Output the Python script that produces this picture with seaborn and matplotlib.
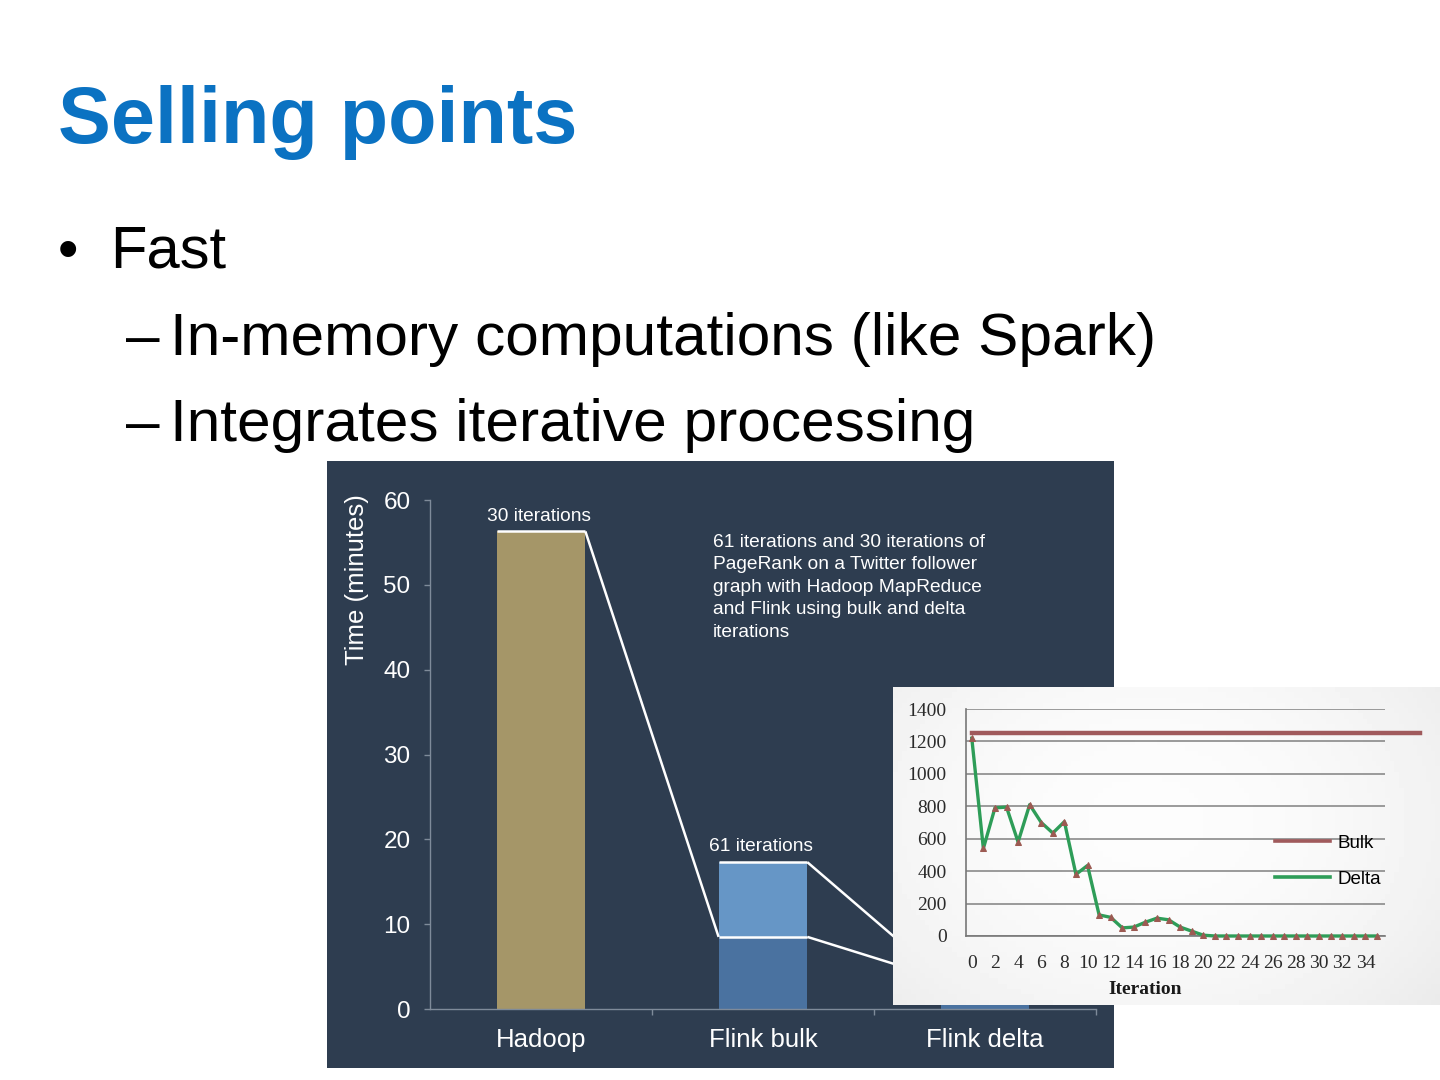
import matplotlib
matplotlib.use("Agg")
import matplotlib.pyplot as plt
import seaborn as sns
import numpy as np
import pandas as pd
from matplotlib.lines import Line2D

# ---------------- data ----------------
title_text = "Selling points"
bullet_main = "Fast"
sub_bullets = ["In-memory computations (like Spark)", "Integrates iterative processing"]

systems = ["Hadoop", "Flink bulk", "Flink delta"]
time_61_or_total = [56.3, 17.3, 3.8]   # top of each bar (minutes)
time_30 = [56.3, 8.5, 3.6]             # 30-iteration segment (minutes)
bar_labels = ["30 iterations", "61 iterations", ""]
y_ticks_main = [0, 10, 20, 30, 40, 50, 60]
note_text = ("61 iterations and 30 iterations of\nPageRank on a Twitter follower\n"
             "graph with Hadoop MapReduce\nand Flink using bulk and delta\niterations")

iterations = list(range(0, 36))
delta_values = [1220, 540, 790, 795, 580, 810, 700, 635, 705, 380, 435, 130, 115, 50, 55,
                85, 110, 100, 55, 30, 5, 0, 0, 0, 0, 0, 0, 0, 0, 0, 0, 0, 0, 0, 0, 0]
bulk_value = 1250
inset_yticks = [0, 200, 400, 600, 800, 1000, 1200, 1400]
inset_xticks = list(range(0, 35, 2))

# ---------------- helpers ----------------
W, H = 1440, 1080
def rect(l, t, r, b):
    return [l / W, 1 - b / H, (r - l) / W, (b - t) / H]
def fx(x): return x / W
def fy(y): return 1 - y / H

fig = plt.figure(figsize=(14.4, 10.8), dpi=100)
fig.patch.set_facecolor("white")

# ---------------- slide text ----------------
fig.text(fx(58), fy(143), title_text, fontsize=57, fontweight="bold",
         color="#0b72c2", family="Liberation Sans", va="baseline", ha="left")
fig.text(fx(58), fy(268), "\u2022", fontsize=42, color="black",
         family="Liberation Sans", va="baseline", ha="left")
fig.text(fx(110), fy(268), bullet_main, fontsize=43, color="black",
         family="Liberation Sans", va="baseline", ha="left")
for i, s in enumerate(sub_bullets):
    base = 355 + i * 86
    fig.text(fx(126), fy(base), "\u2013", fontsize=43.5, color="black",
             family="Liberation Sans", va="baseline", ha="left")
    fig.text(fx(170), fy(base), s, fontsize=43.5, color="black",
             family="Liberation Sans", va="baseline", ha="left")

# ---------------- dark panel ----------------
bg = fig.add_axes(rect(327, 461, 1114, 1068))
bg.set_facecolor("#2e3d50")
bg.set_xticks([]); bg.set_yticks([])
for s in bg.spines.values():
    s.set_visible(False)

# ---------------- bar chart ----------------
ax = fig.add_axes(rect(430, 500, 1096, 1009))
ax.set_facecolor("none")
df_top = pd.DataFrame({"system": systems, "time": time_61_or_total})
df_low = pd.DataFrame({"system": systems, "time": time_30})
sns.barplot(data=df_top, x="system", y="time", hue="system", order=systems,
            palette=["#a59668", "#6696c6", "#6696c6"], width=0.4, saturation=1,
            legend=False, ax=ax, edgecolor="none")
sns.barplot(data=df_low, x="system", y="time", hue="system", order=systems,
            palette=["#a59668", "#4a72a0", "#4a72a0"], width=0.4, saturation=1,
            legend=False, ax=ax, edgecolor="none")
ax.set_xlim(-0.5, 2.5)
ax.set_ylim(0, 60)
ax.set_yticks(y_ticks_main)
ax.set_yticklabels([str(v) for v in y_ticks_main])

hw = 0.2
wl = dict(color="white", lw=1.8, solid_capstyle="butt", zorder=5, clip_on=False)
ax.plot([0 - hw, 0 + hw], [time_61_or_total[0]] * 2, **wl)
ax.plot([1 - hw, 1 + hw], [time_61_or_total[1]] * 2, **wl)
ax.plot([1 - hw, 1 + hw], [time_30[1]] * 2, **wl)
ax.plot([0 + hw, 1 - hw], [time_30[0], time_30[1]], **wl)
ax.plot([1 + hw, 2 - hw], [time_61_or_total[1], time_61_or_total[2]], **wl)
ax.plot([1 + hw, 2 - hw], [time_30[1], time_30[2]], **wl)

for i, lab in enumerate(bar_labels):
    if lab:
        ax.text(i - 0.01, time_61_or_total[i] + 1.8, lab, ha="center", va="center",
                color="white", fontsize=13.8, family="Liberation Sans")

ax.text(0.775, 56.0, note_text, ha="left", va="top", color="white",
        fontsize=13.8, family="Liberation Sans", linespacing=1.42)

for side in ["top", "right"]:
    ax.spines[side].set_visible(False)
for side in ["left", "bottom"]:
    ax.spines[side].set_color("#7f8b9a")
    ax.spines[side].set_linewidth(1.0)
ax.tick_params(axis="y", colors="#7f8b9a", labelcolor="white", labelsize=17.5,
               length=4, width=1, pad=10, direction="out")
ax.tick_params(axis="x", which="major", length=0, labelcolor="white", labelsize=18.5, pad=14)
ax.set_xticks([0.5, 1.5, 2.5], minor=True)
ax.tick_params(axis="x", which="minor", length=4, width=1, colors="#7f8b9a", direction="out")
for t in ax.get_xticklabels() + ax.get_yticklabels():
    t.set_family("Liberation Sans")
ax.set_xlabel("")
ax.set_ylabel("Time (minutes)", color="white", fontsize=18.5, family="Liberation Sans")
ax.yaxis.set_label_coords(-0.091, 0.843)

# ---------------- inset chart ----------------
ibg = fig.add_axes(rect(893, 687, 1440, 1005))
yy, xx = np.mgrid[0:60, 0:120]
grad = 0.99 - 0.05 * (((xx - 55) / 70.0) ** 2 + ((yy - 25) / 45.0) ** 2)
ibg.imshow(grad, cmap="gray", vmin=0, vmax=1, aspect="auto", extent=[0, 1, 0, 1])
ibg.set_xticks([]); ibg.set_yticks([])
for s in ibg.spines.values():
    s.set_visible(False)

iax = fig.add_axes(rect(966, 709, 1385, 936))
iax.set_facecolor("none")
iax.set_xlim(-0.5, 35.7)
iax.set_ylim(0, 1400)
iax.set_yticks(inset_yticks)
iax.set_xticks(inset_xticks)
iax.yaxis.grid(True, color="#8a8a8a", lw=1.2)
iax.set_axisbelow(True)
iax.axhline(bulk_value, xmin=0.014, xmax=1.083, color="#a05a5c", lw=3.2,
            clip_on=False, zorder=4)
sns.lineplot(x=iterations, y=delta_values, ax=iax, color="#2e9d58", lw=2.4,
             marker="^", markersize=4.5, markerfacecolor="#9c5a52",
             markeredgecolor="#9c5a52", zorder=5, clip_on=False)
for side in ["top", "right"]:
    iax.spines[side].set_visible(False)
iax.spines["left"].set_color("#777777")
iax.spines["bottom"].set_color("#777777")
iax.spines["left"].set_linewidth(1.2)
iax.spines["bottom"].set_linewidth(1.2)
iax.tick_params(axis="both", length=0, labelsize=14, labelcolor="#2a2a2a")
iax.tick_params(axis="y", pad=14)
iax.tick_params(axis="x", pad=14)
for t in iax.get_xticklabels() + iax.get_yticklabels():
    t.set_family("Liberation Serif")
iax.set_xlabel("Iteration", family="Liberation Serif", fontweight="bold",
               fontsize=14, color="#1a1a1a")
iax.xaxis.set_label_coords((1145 - 966) / (1385 - 966), -(989 - 936) / (936 - 709), transform=iax.transAxes)
iax.xaxis.label.set_va("center")
iax.set_ylabel("")

handles = [Line2D([0], [0], color="#a05a5c", lw=2.6),
           Line2D([0], [0], color="#2e9d58", lw=2.6)]
fig.legend(handles, ["Bulk", "Delta"], loc="center left",
           bbox_to_anchor=(fx(1266), fy(861)), frameon=False,
           prop={"family": "Liberation Sans", "size": 13.5},
           handlelength=2.9, handletextpad=0.4, labelspacing=1.0, borderpad=0)

fig.savefig("out.png", dpi=100, facecolor="white")
